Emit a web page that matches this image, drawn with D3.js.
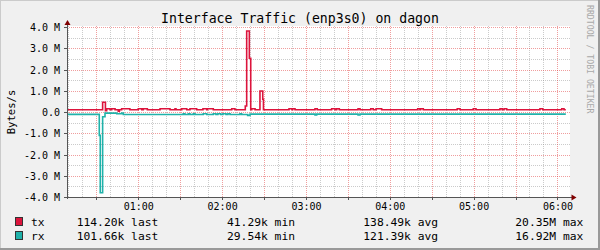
<!DOCTYPE html>
<html><head><meta charset="utf-8">
<script src="https://cdn.jsdelivr.net/npm/d3@7/dist/d3.min.js"></script>
<style>
html,body{margin:0;padding:0;background:#fff}
svg{display:block}
text{font-family:"DejaVu Sans Mono",monospace}
</style></head><body>
<svg id="c" width="600" height="250"></svg>
<script>
// ---- data (time in minutes after 00:00, rates in kBytes/s) ----
const txMinutes = [9,34.5,36.5,37.4,39.8,41,43.4,45.7,46.5,48.1,54,60,62.5,63.6,66.5,75.6,82.7,86.3,87,91.1,94.7,97,101.8,106.3,109,109.5,113.7,126.9,129.2,136.6,137.6,139.5,140.5,141.2,143.6,147.1,149.1,149.6,167.9,170,170.5,172.2,186.5,188.1,198.4,200.8,202,203.9,217.3,218.7,226.4,228.2,230.2,234.2,260,261.6,262.1,264,288.3,290.3,299.8,301.7,318.9,320.5,321.8,323.7,347.5,349.5,363.1,364.7,366];
const txKBps    = [105,460,60,150,105,150,105,40,105,150,105,150,105,150,105,150,105,150,105,150,105,150,105,150,105,150,105,150,105,280,3810,2530,105,150,105,990,600,105,150,105,150,105,150,105,150,105,150,105,150,105,150,105,150,105,150,105,150,105,150,105,150,105,150,105,150,105,150,105,150,105,105];
const rxMinutes = [9,32.1,32.8,34.5,36.2,44.6,48.1,49.3,92.2,93.4,95.8,97,99.4,100.6,106.5,109,113.7,115.6,117,119,120.6,122.8,124.2,125.7,132.8,134,138.3,140,186.5,187.7,217.3,218.7,366];
const rxKBps    = [-110,-1100,-3800,-220,-55,-80,-55,-120,-80,-120,-80,-120,-80,-120,-80,-120,-80,-120,-80,-120,-80,-120,-80,-120,-80,-120,-160,-100,-140,-100,-140,-100,-100];
const yTickValues = [-4,-3,-2,-1,0,1,2,3,4];           // MBytes/s
const yMinorValues = [-3.5,-2.5,-1.5,-0.5,0.5,1.5,2.5,3.5];
const xLabelMinutes = [60,120,180,240,300,360];
const xLabelTexts = ["01:00","02:00","03:00","04:00","05:00","06:00"];
const seriesNames = ["tx","rx"];
const seriesColors = ["#DC143C","#20B2AA"];
const lastTexts = ["114.20k last","101.66k last"];
const minTexts = ["41.29k min","29.54k min"];
const avgTexts = ["138.49k avg","121.39k avg"];
const maxTexts = ["20.35M max","16.92M max"];
const titleText = "Interface Traffic (enp3s0) on dagon";
const yTitle = "Bytes/s";
const watermark = "RRDTOOL / TOBI OETIKER";

// ---- layout ----
const svg = d3.select("#c");
const W=600,H=250, L=67, R=570, T=26, B=197;
const x = d3.scaleLinear().domain([9,369]).range([L,R]);
const y = d3.scaleLinear().domain([-4,4]).range([B,T+1]);

svg.append("rect").attr("width",W).attr("height",H).attr("fill","#F0F0F0");
// shaded border
svg.append("path").attr("d",`M0,${H} V0 H${W}`).attr("fill","none").attr("stroke","#CBCBCB").attr("stroke-width",2);
svg.append("path").attr("d",`M0,${H-1} H${W-1} V0`).attr("fill","none").attr("stroke","#999999").attr("stroke-width",2);

svg.append("rect").attr("x",L).attr("y",T).attr("width",R-L).attr("height",B-T).attr("fill","#FFFFFF");

const minorX=[], majorX=[];
for(let m=10;m<=369;m+=10){ (m%30===0?majorX:minorX).push(m); }

const grid = svg.append("g").attr("shape-rendering","crispEdges");
grid.selectAll(".mx").data(minorX).join("line")
  .attr("x1",d=>Math.round(x(d))+0.5).attr("x2",d=>Math.round(x(d))+0.5).attr("y1",T).attr("y2",B)
  .attr("stroke","rgba(140,140,140,0.45)").attr("stroke-dasharray","1,1");
grid.selectAll(".my").data(yMinorValues).join("line")
  .attr("y1",d=>Math.round(y(d))+0.5).attr("y2",d=>Math.round(y(d))+0.5).attr("x1",L).attr("x2",R)
  .attr("stroke","rgba(140,140,140,0.45)").attr("stroke-dasharray","1,1");
grid.selectAll(".Mx").data(majorX).join("line")
  .attr("x1",d=>Math.round(x(d))+0.5).attr("x2",d=>Math.round(x(d))+0.5).attr("y1",T).attr("y2",B)
  .attr("stroke","rgba(225,60,60,0.5)").attr("stroke-dasharray","1,1");
grid.selectAll(".My").data(yTickValues).join("line")
  .attr("y1",d=>Math.round(y(d))+0.5).attr("y2",d=>Math.round(y(d))+0.5).attr("x1",L).attr("x2",R)
  .attr("stroke","rgba(225,60,60,0.5)").attr("stroke-dasharray","1,1");

// series
function pts(ts,vs){ return ts.map((t,i)=>[t, vs[i]/1000]); }
const line = d3.line().x(d=>x(d[0])).y(d=>y(d[1])).curve(d3.curveStepAfter);
[[txMinutes,txKBps],[rxMinutes,rxKBps]].forEach((s,i)=>{
  svg.append("path").datum(pts(s[0],s[1])).attr("d",line)
    .attr("fill","none").attr("stroke",seriesColors[i]).attr("stroke-width",1.6);
});

// axes
const axisColor = "#555555";
const yAxis = d3.axisLeft(y).tickValues(yTickValues).tickSize(3).tickPadding(4)
  .tickFormat(d=> d===0 ? "0.0" : d.toFixed(1)+" M");
const gy = svg.append("g").attr("transform",`translate(${L},0)`).call(yAxis);
const xAxis = d3.axisBottom(x).tickValues(majorX).tickSize(3).tickPadding(2)
  .tickFormat(d=>{ const i=xLabelMinutes.indexOf(d); return i<0?"":xLabelTexts[i]; });
const gx = svg.append("g").attr("transform",`translate(0,${B})`).call(xAxis);
[gx,gy].forEach(g=>{
  g.select(".domain").remove();
  g.selectAll("line").attr("stroke",axisColor).attr("shape-rendering","crispEdges");
  g.selectAll("text").attr("fill","#000").style("font-size","10px").style("font-family","'DejaVu Sans Mono',monospace");
});
gy.selectAll("text").attr("dy","0.36em");
gx.selectAll("text").attr("dy","0.78em");

svg.append("line").attr("x1",L+0.5).attr("x2",L+0.5).attr("y1",B+2).attr("y2",T-3)
  .attr("stroke",axisColor).attr("shape-rendering","crispEdges");
svg.append("line").attr("x1",L-2).attr("x2",R+3).attr("y1",B+0.5).attr("y2",B+0.5)
  .attr("stroke",axisColor).attr("shape-rendering","crispEdges");
svg.append("path").attr("d",`M${L-2.5},${T-1} L${L+0.5},${T-6} L${L+3.5},${T-1} Z`).attr("fill","#800000");
svg.append("path").attr("d",`M${R+1.5},${B-2.5} L${R+6.5},${B+0.5} L${R+1.5},${B+3.5} Z`).attr("fill","#800000");

// titles
svg.append("text").attr("x",300).attr("y",23).attr("text-anchor","middle")
  .style("font-size","13.2px").attr("fill","#000").text(titleText);
svg.append("text").attr("transform",`translate(14.5,112) rotate(-90)`).attr("text-anchor","middle")
  .style("font-size","10.6px").attr("fill","#000").text(yTitle);
svg.append("text").attr("transform",`translate(587,5) rotate(90)`).attr("text-anchor","start")
  .style("font-size","8.2px").attr("fill","#A8A8A8").text(watermark);

// legend
const leg = seriesNames.map((n,i)=>({n, c:seriesColors[i], last:lastTexts[i], min:minTexts[i], avg:avgTexts[i], max:maxTexts[i], y:226+13.5*i}));
const lg = svg.selectAll(".leg").data(leg).join("g");
lg.append("rect").attr("x",15.5).attr("y",d=>d.y-8.5).attr("width",7).attr("height",8)
  .attr("fill",d=>d.c).attr("stroke","#333").attr("stroke-width",1).attr("shape-rendering","crispEdges");
const fs="11.3px";
lg.append("text").attr("x",31).attr("y",d=>d.y).style("font-size",fs).text(d=>d.n);
lg.append("text").attr("x",76.7).attr("y",d=>d.y).style("font-size",fs).text(d=>d.last);
lg.append("text").attr("x",295).attr("y",d=>d.y).attr("text-anchor","end").style("font-size",fs).text(d=>d.min);
lg.append("text").attr("x",363.3).attr("y",d=>d.y).style("font-size",fs).text(d=>d.avg);
lg.append("text").attr("x",583.3).attr("y",d=>d.y).attr("text-anchor","end").style("font-size",fs).text(d=>d.max);
</script>
</body></html>
